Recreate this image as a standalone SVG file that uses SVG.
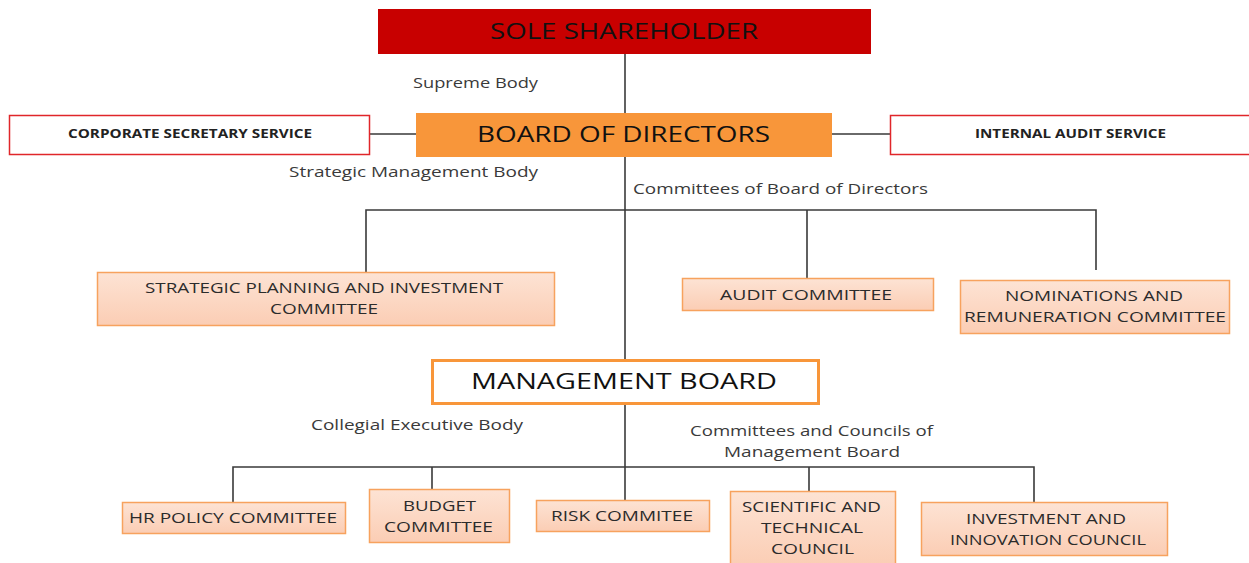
<svg xmlns="http://www.w3.org/2000/svg" width="1249" height="563" viewBox="0 0 1249 563">
  <defs>
    <linearGradient id="peach" x1="0" y1="0" x2="0" y2="1">
      <stop offset="0" stop-color="#fde3d4"/>
      <stop offset="1" stop-color="#fbcdb4"/>
    </linearGradient>
    <style>
      .lnk { fill: none; stroke: #3a3a3a; stroke-width: 1.6; }
      .title { font-family: "Open Sans", "Liberation Sans", sans-serif; font-size: 22px; fill: #111; }
      .svc { fill: #fff; stroke: #e0262a; stroke-width: 1.5; }
      .svct { font-family: "Open Sans", "Liberation Sans", sans-serif; font-size: 11.5px; font-weight: bold; fill: #222; }
      .cmt { fill: url(#peach); stroke: #f7a25e; stroke-width: 1.5; }
      .cmtt { font-family: "Open Sans", "Liberation Sans", sans-serif; font-size: 15px; fill: #2b2b2b; }
      .lbl { font-family: "Open Sans", "Liberation Sans", sans-serif; font-size: 14.5px; fill: #3a3a3a; }
    </style>
  </defs>

  <rect width="1249" height="563" fill="#fff"/>

  <!-- connectors -->
  <g id="connectors">
    <path class="lnk" d="M625 54 V360"/>
    <path class="lnk" d="M370 134 H416 M832 134 H890"/>
    <path class="lnk" d="M366 273 V210 H1096 V270 M807 210 V278"/>
    <path class="lnk" d="M625 404 V500"/>
    <path class="lnk" d="M233 503 V467 H1034 V502 M432 467 V489 M809 467 V491"/>
  </g>

  <!-- top level -->
  <g id="sole-shareholder">
    <rect x="378" y="9" width="493" height="45" fill="#c80000"/>
    <text class="title" x="490" y="39" textLength="268" lengthAdjust="spacingAndGlyphs">SOLE SHAREHOLDER</text>
  </g>

  <g id="board-of-directors">
    <rect x="416" y="113" width="416" height="44" fill="#f8963a"/>
    <text class="title" x="477" y="142" textLength="293" lengthAdjust="spacingAndGlyphs">BOARD OF DIRECTORS</text>
  </g>

  <g id="corporate-secretary">
    <rect class="svc" x="9.5" y="115.5" width="360" height="39"/>
    <text class="svct" x="68" y="138" textLength="244" lengthAdjust="spacingAndGlyphs">CORPORATE SECRETARY SERVICE</text>
  </g>

  <g id="internal-audit">
    <rect class="svc" x="890.5" y="115.5" width="362" height="39"/>
    <text class="svct" x="975" y="138" textLength="191" lengthAdjust="spacingAndGlyphs">INTERNAL AUDIT SERVICE</text>
  </g>

  <!-- body labels -->
  <g id="labels">
    <text class="lbl" x="413" y="88" textLength="125" lengthAdjust="spacingAndGlyphs">Supreme Body</text>
    <text class="lbl" x="289" y="177" textLength="249" lengthAdjust="spacingAndGlyphs">Strategic Management Body</text>
    <text class="lbl" x="633" y="194" textLength="295" lengthAdjust="spacingAndGlyphs">Committees of Board of Directors</text>
    <text class="lbl" x="311" y="430" textLength="212" lengthAdjust="spacingAndGlyphs">Collegial Executive Body</text>
    <text class="lbl" x="690" y="436" textLength="243" lengthAdjust="spacingAndGlyphs">Committees and Councils of</text>
    <text class="lbl" x="724" y="457" textLength="176" lengthAdjust="spacingAndGlyphs">Management Board</text>
  </g>

  <!-- board committees -->
  <g id="strategic-planning">
    <rect class="cmt" x="97.5" y="272.5" width="457" height="53"/>
    <text class="cmtt" x="145" y="293" textLength="358" lengthAdjust="spacingAndGlyphs">STRATEGIC PLANNING AND INVESTMENT</text>
    <text class="cmtt" x="270" y="314" textLength="108" lengthAdjust="spacingAndGlyphs">COMMITTEE</text>
  </g>

  <g id="audit-committee">
    <rect class="cmt" x="682.5" y="278.5" width="251" height="32"/>
    <text class="cmtt" x="720" y="300" textLength="172" lengthAdjust="spacingAndGlyphs">AUDIT COMMITTEE</text>
  </g>

  <g id="nominations">
    <rect class="cmt" x="960.5" y="280.5" width="269" height="53"/>
    <text class="cmtt" x="1005" y="301" textLength="178" lengthAdjust="spacingAndGlyphs">NOMINATIONS AND</text>
    <text class="cmtt" x="964" y="322" textLength="262" lengthAdjust="spacingAndGlyphs">REMUNERATION COMMITTEE</text>
  </g>

  <!-- management board -->
  <g id="management-board">
    <rect x="432.5" y="360.5" width="386" height="43" fill="#fff" stroke="#f8963a" stroke-width="3"/>
    <text class="title" x="471" y="389" textLength="306" lengthAdjust="spacingAndGlyphs">MANAGEMENT BOARD</text>
  </g>

  <!-- management committees and councils -->
  <g id="hr-policy">
    <rect class="cmt" x="122.5" y="502.5" width="223" height="31"/>
    <text class="cmtt" x="129" y="523" textLength="208" lengthAdjust="spacingAndGlyphs">HR POLICY COMMITTEE</text>
  </g>

  <g id="budget">
    <rect class="cmt" x="369.5" y="489.5" width="140" height="53"/>
    <text class="cmtt" x="403" y="511" textLength="73" lengthAdjust="spacingAndGlyphs">BUDGET</text>
    <text class="cmtt" x="384" y="532" textLength="109" lengthAdjust="spacingAndGlyphs">COMMITTEE</text>
  </g>

  <g id="risk">
    <rect class="cmt" x="536.5" y="500.5" width="173" height="31"/>
    <text class="cmtt" x="551" y="521" textLength="142" lengthAdjust="spacingAndGlyphs">RISK COMMITEE</text>
  </g>

  <g id="scientific-technical">
    <rect class="cmt" x="730.5" y="491.5" width="165" height="75"/>
    <text class="cmtt" x="742" y="512" textLength="139" lengthAdjust="spacingAndGlyphs">SCIENTIFIC AND</text>
    <text class="cmtt" x="761" y="533" textLength="102" lengthAdjust="spacingAndGlyphs">TECHNICAL</text>
    <text class="cmtt" x="771" y="554" textLength="83" lengthAdjust="spacingAndGlyphs">COUNCIL</text>
  </g>

  <g id="investment-innovation">
    <rect class="cmt" x="921.5" y="502.5" width="246" height="53"/>
    <text class="cmtt" x="966" y="524" textLength="160" lengthAdjust="spacingAndGlyphs">INVESTMENT AND</text>
    <text class="cmtt" x="950" y="545" textLength="196" lengthAdjust="spacingAndGlyphs">INNOVATION COUNCIL</text>
  </g>
</svg>
